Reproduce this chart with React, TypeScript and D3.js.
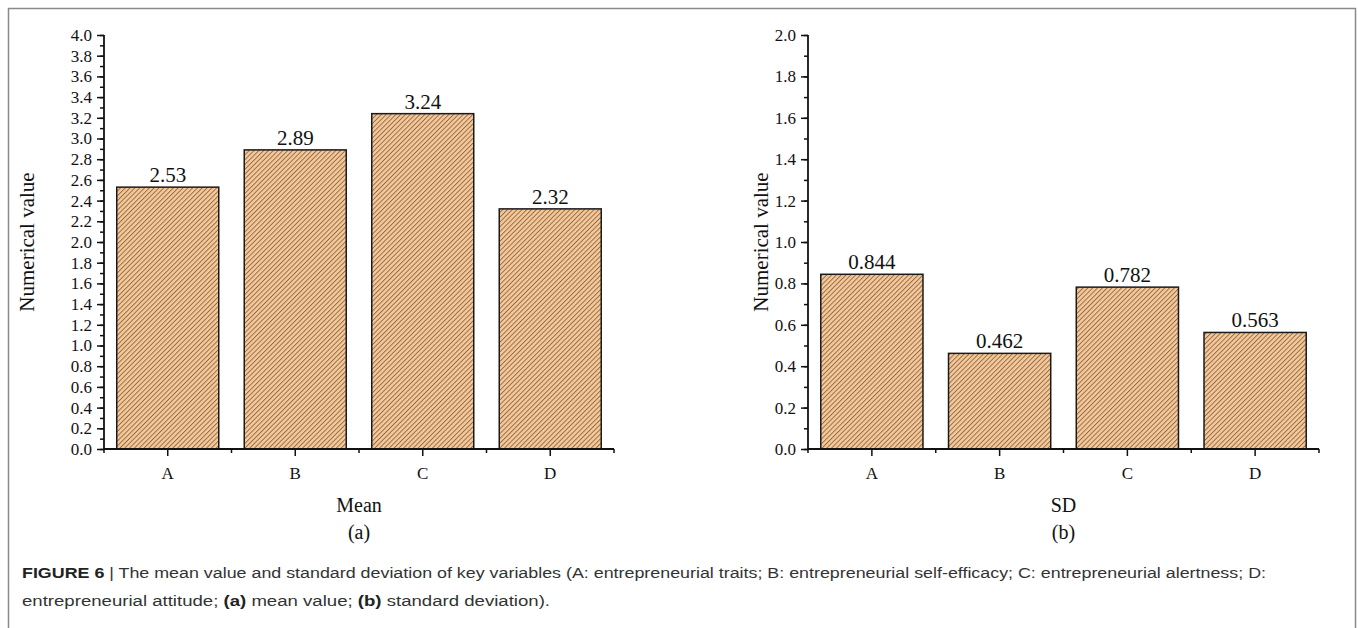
import * as d3 from 'd3'
import { useRef, useEffect } from 'react'

// values
const categories = ['A', 'B', 'C', 'D']
const meanValues = [2.53, 2.89, 3.24, 2.32]
const sdValues = [0.844, 0.462, 0.782, 0.563]
const meanLabels = ['2.53', '2.89', '3.24', '2.32']
const sdLabels = ['0.844', '0.462', '0.782', '0.563']
const meanTicks = d3.range(0, 41, 2).map(d => d / 10)
const sdTicks = d3.range(0, 21, 2).map(d => d / 10)

const serif = '"Liberation Serif", "Times New Roman", serif'
const sans = '"Liberation Sans", Arial, sans-serif'

const Panel = (props) => {
  const { x0, x1, y0, y1, maxY, ticks, values, labels, title, sub, titleX, patternId } = props

  const xScale = d3.scaleBand()
    .domain(categories)
    .range([x0, x1])
    .paddingInner(0.2)
    .paddingOuter(0.1)

  const yScale = d3.scaleLinear()
    .domain([0, maxY])
    .range([y0, y1])

  const yAxis = useRef(null)
  const yMinor = useRef(null)
  const xAxis = useRef(null)

  useEffect(() => {
    const yGen = d3.axisLeft(yScale).tickValues(ticks).tickSize(7).tickSizeOuter(0).tickPadding(5)
      .tickFormat(d3.format('.1f'))
    const minor = d3.range(0, maxY * 10 + 1).map(d => d / 10)
    const yMinorGen = d3.axisLeft(yScale).tickValues(minor).tickSize(4).tickSizeOuter(0).tickFormat(() => '')

    const gy = d3.select(yAxis.current).call(yGen)
    gy.select('.domain').remove()
    gy.selectAll('line').attr('stroke', '#111').attr('stroke-width', 1.5)
    gy.selectAll('text').attr('font-family', serif).attr('font-size', 17).attr('fill', '#111')

    const gm = d3.select(yMinor.current).call(yMinorGen)
    gm.select('.domain').remove()
    gm.selectAll('line').attr('stroke', '#111').attr('stroke-width', 1.5)

    const xGen = d3.axisBottom(xScale).tickSize(7).tickSizeOuter(0).tickPadding(11)
    const gx = d3.select(xAxis.current).call(xGen)
    gx.select('.domain').remove()
    gx.selectAll('line').attr('stroke', '#111').attr('stroke-width', 1.5)
    gx.selectAll('text').attr('font-family', serif).attr('font-size', 17).attr('fill', '#111')
  })

  const step = xScale.step()
  const bounds = d3.range(0, categories.length + 1).map(k => x0 + k * step)

  return (
    <g>
      {values.map((v, i) => (
        <g key={categories[i]}>
          <rect
            x={xScale(categories[i])}
            y={yScale(v)}
            width={xScale.bandwidth()}
            height={y0 - yScale(v)}
            fill={`url(#${patternId})`}
            stroke="#1a1a1a"
            strokeWidth={1.5}
          />
          <text
            x={xScale(categories[i]) + xScale.bandwidth() / 2}
            y={yScale(v) - 5}
            textAnchor="middle"
            fontFamily={serif}
            fontSize={21}
            fill="#111"
          >{labels[i]}</text>
        </g>
      ))}
      <g ref={yMinor} transform={`translate(${x0},0)`} />
      <g ref={yAxis} transform={`translate(${x0},0)`} />
      <g ref={xAxis} transform={`translate(0,${y0})`} />
      {bounds.map(b => (
        <line key={b} x1={b} x2={b} y1={y0} y2={y0 + 4} stroke="#111" strokeWidth={1.5} />
      ))}
      <line x1={x0} x2={x0} y1={y1} y2={y0} stroke="#111" strokeWidth={1.8} />
      <line x1={x0} x2={x1} y1={y0} y2={y0} stroke="#111" strokeWidth={1.8} />
      <text
        transform={`translate(${titleX},${(y0 + y1) / 2}) rotate(-90)`}
        textAnchor="middle"
        fontFamily={serif}
        fontSize={21}
        fill="#111"
      >Numerical value</text>
      <text x={(x0 + x1) / 2} y={512} textAnchor="middle" fontFamily={serif} fontSize={20} fill="#111">{title}</text>
      <text x={(x0 + x1) / 2} y={539} textAnchor="middle" fontFamily={serif} fontSize={20} fill="#111">{sub}</text>
    </g>
  )
}

const App = () => {
  return (
    <svg
      width={1358}
      height={628}
      style={{ position: 'absolute', left: 0, top: 0, display: 'block', background: '#fff' }}
    >
      <defs>
        <pattern id="hatch" patternUnits="userSpaceOnUse" width={3.4} height={3.4} patternTransform="rotate(45)">
          <rect width={3.4} height={3.4} fill="#f9c794" />
          <line x1={0.5} y1={0} x2={0.5} y2={3.4} stroke="#6a5645" strokeWidth={0.75} />
        </pattern>
      </defs>
      <rect x={8.5} y={8.5} width={1347} height={640} fill="none" stroke="#8a8a8a" strokeWidth={1.5} />

      <Panel
        x0={104} x1={614} y0={449} y1={35} maxY={4}
        ticks={meanTicks} values={meanValues} labels={meanLabels}
        title="Mean" sub="(a)" titleX={34} patternId="hatch"
      />
      <Panel
        x0={808} x1={1319} y0={449} y1={35} maxY={2}
        ticks={sdTicks} values={sdValues} labels={sdLabels}
        title="SD" sub="(b)" titleX={768} patternId="hatch"
      />

      <text x={22} y={578} fontFamily={sans} fontSize={15.5} fill="#333" textLength={1244} lengthAdjust="spacingAndGlyphs">
        <tspan fontWeight="bold" fill="#222">FIGURE 6</tspan>
        <tspan> | The mean value and standard deviation of key variables (A: entrepreneurial traits; B: entrepreneurial self-efficacy; C: entrepreneurial alertness; D:</tspan>
      </text>
      <text x={22} y={606} fontFamily={sans} fontSize={15.5} fill="#333" textLength={528} lengthAdjust="spacingAndGlyphs">
        <tspan>entrepreneurial attitude; </tspan>
        <tspan fontWeight="bold" fill="#222">(a)</tspan>
        <tspan> mean value; </tspan>
        <tspan fontWeight="bold" fill="#222">(b)</tspan>
        <tspan> standard deviation).</tspan>
      </text>
    </svg>
  )
}

export default App
